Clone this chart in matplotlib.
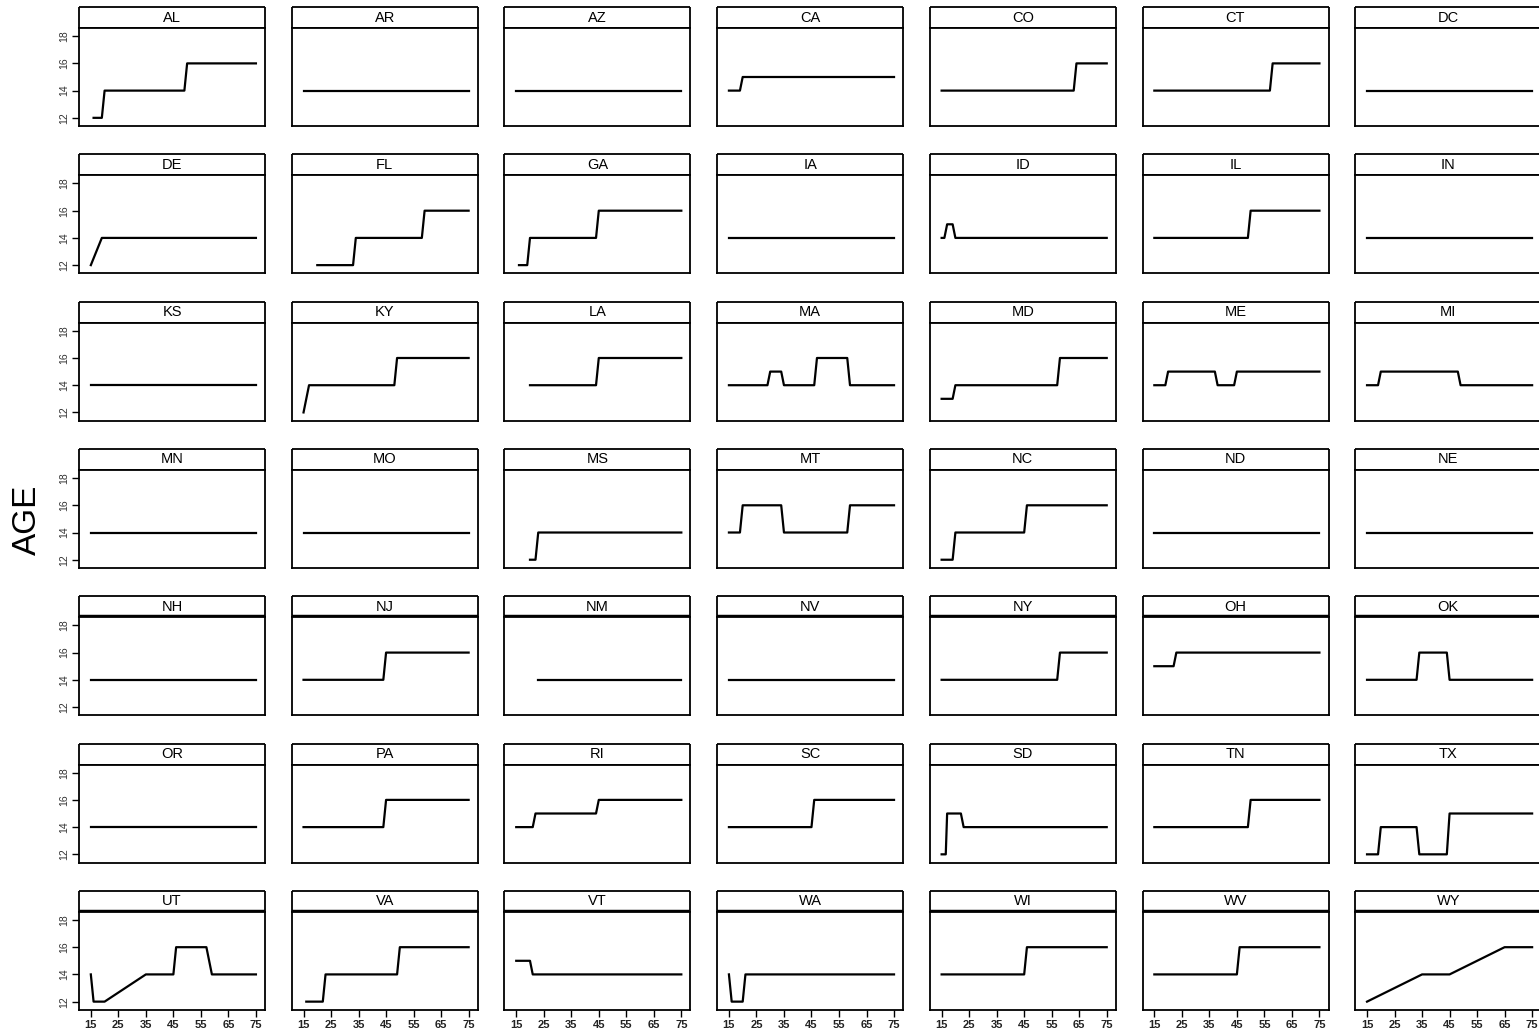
import matplotlib
matplotlib.use('Agg')
import matplotlib.pyplot as plt

# state panels, in reading order (7 x 7)
states = ['AL', 'AR', 'AZ', 'CA', 'CO', 'CT', 'DC',
          'DE', 'FL', 'GA', 'IA', 'ID', 'IL', 'IN',
          'KS', 'KY', 'LA', 'MA', 'MD', 'ME', 'MI',
          'MN', 'MO', 'MS', 'MT', 'NC', 'ND', 'NE',
          'NH', 'NJ', 'NM', 'NV', 'NY', 'OH', 'OK',
          'OR', 'PA', 'RI', 'SC', 'SD', 'TN', 'TX',
          'UT', 'VA', 'VT', 'WA', 'WI', 'WV', 'WY']

# breakpoints of each curve: x = year/age axis, y = AGE
ages = {
    'AL': [16, 19, 20, 49, 50, 75], 'AR': [15, 75], 'AZ': [15, 75],
    'CA': [15, 19, 20, 75], 'CO': [15, 63, 64, 75], 'CT': [15, 57, 58, 75],
    'DC': [15, 75],
    'DE': [15, 19, 75], 'FL': [20, 33, 34, 58, 59, 75],
    'GA': [16, 19, 20, 44, 45, 75], 'IA': [15, 75],
    'ID': [15, 16, 17, 19, 20, 75], 'IL': [15, 49, 50, 75], 'IN': [15, 75],
    'KS': [15, 75], 'KY': [15, 17, 48, 49, 75], 'LA': [20, 44, 45, 75],
    'MA': [15, 29, 30, 34, 35, 46, 47, 58, 59, 75],
    'MD': [15, 19, 20, 57, 58, 75], 'ME': [15, 19, 20, 37, 38, 44, 45, 75],
    'MI': [15, 19, 20, 48, 49, 75],
    'MN': [15, 75], 'MO': [15, 75], 'MS': [20, 22, 23, 75],
    'MT': [15, 19, 20, 34, 35, 58, 59, 75], 'NC': [15, 19, 20, 45, 46, 75],
    'ND': [15, 75], 'NE': [15, 75],
    'NH': [15, 75], 'NJ': [15, 44, 45, 75], 'NM': [23, 75], 'NV': [15, 75],
    'NY': [15, 57, 58, 75], 'OH': [15, 22, 23, 75],
    'OK': [15, 33, 34, 44, 45, 75],
    'OR': [15, 75], 'PA': [15, 44, 45, 75], 'RI': [15, 21, 22, 44, 45, 75],
    'SC': [15, 45, 46, 75], 'SD': [15, 16.5, 17, 22, 23, 75],
    'TN': [15, 49, 50, 75], 'TX': [15, 19, 20, 33, 34, 44, 45, 75],
    'UT': [15, 16, 20, 35, 45, 46, 57, 59, 75],
    'VA': [16, 22, 23, 49, 50, 75], 'VT': [15, 20, 21, 75],
    'WA': [15, 16, 20, 21, 75], 'WI': [15, 45, 46, 75],
    'WV': [15, 45, 46, 75], 'WY': [15, 35, 45, 65, 75],
}
levels = {
    'AL': [12, 12, 14, 14, 16, 16], 'AR': [14, 14], 'AZ': [14, 14],
    'CA': [14, 14, 15, 15], 'CO': [14, 14, 16, 16], 'CT': [14, 14, 16, 16],
    'DC': [14, 14],
    'DE': [12, 14, 14], 'FL': [12, 12, 14, 14, 16, 16],
    'GA': [12, 12, 14, 14, 16, 16], 'IA': [14, 14],
    'ID': [14, 14, 15, 15, 14, 14], 'IL': [14, 14, 16, 16], 'IN': [14, 14],
    'KS': [14, 14], 'KY': [12, 14, 14, 16, 16], 'LA': [14, 14, 16, 16],
    'MA': [14, 14, 15, 15, 14, 14, 16, 16, 14, 14],
    'MD': [13, 13, 14, 14, 16, 16], 'ME': [14, 14, 15, 15, 14, 14, 15, 15],
    'MI': [14, 14, 15, 15, 14, 14],
    'MN': [14, 14], 'MO': [14, 14], 'MS': [12, 12, 14, 14],
    'MT': [14, 14, 16, 16, 14, 14, 16, 16], 'NC': [12, 12, 14, 14, 16, 16],
    'ND': [14, 14], 'NE': [14, 14],
    'NH': [14, 14], 'NJ': [14, 14, 16, 16], 'NM': [14, 14], 'NV': [14, 14],
    'NY': [14, 14, 16, 16], 'OH': [15, 15, 16, 16],
    'OK': [14, 14, 16, 16, 14, 14],
    'OR': [14, 14], 'PA': [14, 14, 16, 16], 'RI': [14, 14, 15, 15, 16, 16],
    'SC': [14, 14, 16, 16], 'SD': [12, 12, 15, 15, 14, 14],
    'TN': [14, 14, 16, 16], 'TX': [12, 12, 14, 14, 12, 12, 15, 15],
    'UT': [14, 12, 12, 14, 14, 16, 16, 14, 14],
    'VA': [12, 12, 14, 14, 16, 16], 'VT': [15, 15, 14, 14],
    'WA': [14, 12, 12, 14, 14], 'WI': [14, 14, 16, 16],
    'WV': [14, 14, 16, 16], 'WY': [12, 14, 14, 16, 16],
}
x_ticks = [15, 25, 35, 45, 55, 65, 75]
x_tick_labels = ['15', '25', '35', '45', '55', '65', '75']
y_ticks = [12, 14, 16, 18]

W, H = 1539, 1034
fig = plt.figure(figsize=(W / 100, H / 100), dpi=100)
font = ['Liberation Sans Narrow', 'Liberation Sans', 'DejaVu Sans']

def box(px_left, px_top, px_w, px_h):
    return [px_left / W, 1 - (px_top + px_h) / H, px_w / W, px_h / H]

for i, st in enumerate(states):
    r, c = divmod(i, 7)
    left = 79 + c * 212.7
    top = 7 + r * 147.3

    # strip with the state name
    sax = fig.add_axes(box(left, top, 186, 21))
    sax.set_xticks([]); sax.set_yticks([])
    for sp in sax.spines.values():
        sp.set_linewidth(1.3)
        sp.set_capstyle('butt')
    if r in (4, 6):
        sax.spines['bottom'].set_linewidth(3.2)
    sax.text(0.5, 0.5, st, ha='center', va='center', fontsize=10.5,
             family=font, transform=sax.transAxes)

    ax = fig.add_axes(box(left, top + 21, 186, 98))
    ax.plot(ages[st], levels[st], color='black', lw=1.6)
    ax.set_xlim(10.7, 78.3)
    ax.set_ylim(11.4, 18.6)
    for sp in ax.spines.values():
        sp.set_linewidth(1.3)

    if c == 0:
        ax.set_yticks(y_ticks)
        ax.set_yticklabels([str(v) for v in y_ticks], rotation=90, va='center',
                           fontsize=7.5, family=font, color='#333333')
        ax.tick_params(axis='y', direction='out', length=5, width=1, pad=2)
    else:
        ax.set_yticks(y_ticks[:3])
        ax.tick_params(axis='y', direction='inout', length=3, width=1.5,
                       color='white', left=True, right=True, labelleft=False)

    if r == 6:
        ax.set_xticks(x_ticks)
        ax.set_xticklabels(x_tick_labels, fontsize=8, family=font,
                           fontweight='bold', color='#222222')
        ax.tick_params(axis='x', direction='out', length=5, width=1, pad=2)
    else:
        ax.set_xticks([])

fig.text(27 / W, 1 - 520 / H, 'AGE', rotation=90, ha='center', va='center',
         fontsize=24, family=['Liberation Sans', 'DejaVu Sans'])

plt.savefig('out.png', dpi=100)
print('Saved out.png')
